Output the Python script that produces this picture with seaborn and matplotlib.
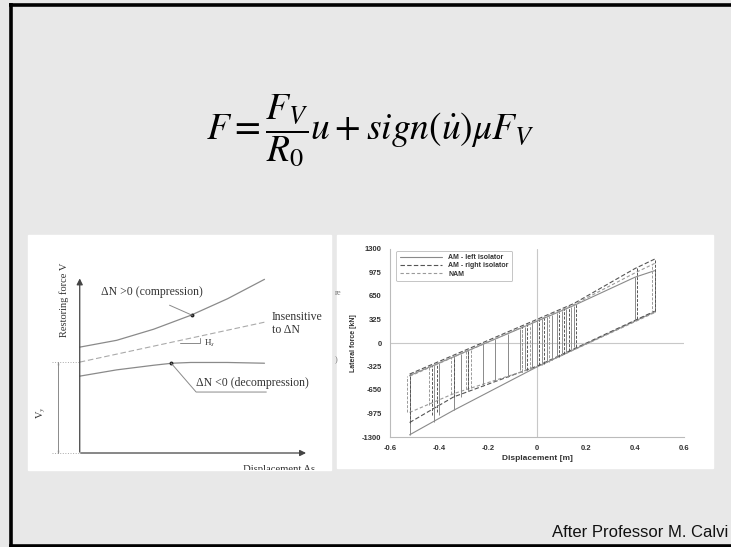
import numpy as np
import pandas as pd
import matplotlib
matplotlib.use('Agg')
import matplotlib.pyplot as plt
import seaborn as sns
from matplotlib.lines import Line2D
from matplotlib.patches import Rectangle

# ---- data: right chart (hysteresis loops) ----
series_names = ['AM - left isolator', 'AM - right isolator', 'NAM']

# branch polylines (displacement [m], force [kN])
left_up_u = [-0.52, 0.15, 0.40, 0.48]
left_up_f = [-450, 518, 910, 1000]
left_lo_u = [-0.52, -0.34, 0.0, 0.48]
left_lo_f = [-1270, -930, -330, 430]

right_up_u = [-0.52, 0.15, 0.40, 0.48]
right_up_f = [-430, 545, 1030, 1160]
right_lo_u = [-0.52, -0.34, 0.0, 0.48]
right_lo_f = [-1100, -745, -320, 440]

nam_up_u = [-0.52, 0.15, 0.40, 0.48]
nam_up_f = [-460, 530, 970, 1100]
nam_lo_u = [-0.52, -0.34, 0.0, 0.48]
nam_lo_f = [-960, -700, -330, 420]

# reversal (unloading) segments: position, top, bottom
left_rev_u = [-0.52, -0.42, -0.40, -0.34, -0.31, -0.28, -0.22, -0.17, -0.12, -0.07,
              -0.05, -0.02, 0.00, 0.02, 0.04, 0.06, 0.08, 0.10, 0.12, 0.14, 0.15, 0.40, 0.48]
left_rev_top = [-450, -309, -280, -193, -150, -106, -19, 54, 126, 199,
                228, 271, 300, 329, 358, 387, 416, 445, 474, 503, 518, 910, 1000]
left_rev_bot = [-1270, -1090, -1000, -930, -740, -670, -600, -530, -465, -380,
                -360, -330, -300, -280, -260, -240, -200, -160, -120, -80, -60, 320, 430]

right_rev_u = [-0.52, -0.43, -0.41, -0.34, -0.28, -0.06, -0.04, 0.01, 0.03, 0.09, 0.11, 0.13, 0.16, 0.41, 0.48]
right_rev_top = [-430, -320, -290, -190, -100, 215, 245, 315, 345, 435, 465, 495, 545, 1040, 1160]
right_rev_bot = [-1100, -1000, -960, -745, -640, -400, -370, -310, -290, -190, -150, -110, -50, 330, 440]

nam_rev_u = [-0.53, -0.44, -0.42, -0.35, -0.29, -0.27, -0.06, -0.03, 0.02, 0.05, 0.10, 0.14, 0.47]
nam_rev_top = [-460, -330, -300, -200, -115, -90, 210, 255, 325, 370, 445, 505, 1090]
nam_rev_bot = [-960, -860, -830, -700, -640, -620, -395, -360, -300, -260, -170, -90, 420]

y_ticks = [-1300, -975, -650, -325, 0, 325, 650, 975, 1300]
x_ticks = [-0.6, -0.4, -0.2, 0, 0.2, 0.4, 0.6]
x_ticklabels = ['-0.6', '-0.4', '-0.2', '0', '0.2', '0.4', '0.6']

# ---- data: left schematic (arbitrary units) ----
comp_x = [0, 2, 4, 6, 8, 10]
comp_v = [5.73, 6.1, 6.7, 7.45, 8.35, 9.4]
insens_x = [0, 10]
insens_v = [4.92, 7.08]
decomp_x = [0, 2, 4, 5, 6, 8, 10]
decomp_v = [4.16, 4.5, 4.75, 4.86, 4.9, 4.9, 4.86]
vy_level = 4.92

W, H = 731, 547


def fr(x0, y0, x1, y1):
    return [x0 / W, 1 - y1 / H, (x1 - x0) / W, (y1 - y0) / H]


sns.set_theme(style='white')
plt.rcParams['font.family'] = ['Liberation Sans', 'DejaVu Sans']
plt.rcParams['mathtext.fontset'] = 'stix'

fig = plt.figure(figsize=(7.31, 5.47), dpi=100)
fig.patch.set_facecolor('#e8e8e8')

# slide background, border and white picture panels
bg = fig.add_axes([0, 0, 1, 1])
bg.set_xlim(0, W)
bg.set_ylim(H, 0)
bg.axis('off')
bg.add_patch(Rectangle((0, 0), W, H, color='#e8e8e8', zorder=0))
bg.plot([10.5, 10.5], [3, H], color='black', lw=2.6, solid_capstyle='butt')
bg.plot([9, W], [4.6, 4.6], color='black', lw=2.6, solid_capstyle='butt')
bg.plot([9, W], [545.5, 545.5], color='black', lw=2.6, solid_capstyle='butt')
bg.add_patch(Rectangle((28, 235), 303, 235, color='white', zorder=1))
bg.add_patch(Rectangle((337, 235), 376, 233, color='white', zorder=1))
bg.text(335, 293, 're', fontsize=6, color='#777', family='Liberation Serif', va='center', zorder=2)
bg.text(335, 360, ')', fontsize=6, color='#777', family='Liberation Serif', va='center', zorder=2)

# formula
fig.text(370 / W, 1 - 130 / H, r'$F=\dfrac{F_V}{R_0}u+sign(\dot{u})\mu F_V$',
         fontsize=27, ha='center', va='center', color='black')

# footer
fig.text(728 / W, 1 - 537 / H, 'After Professor M. Calvi', fontsize=12,
         ha='right', va='baseline', color='#111')

# ---------------- left schematic ----------------
axl = fig.add_axes(fr(28, 235, 331, 470))
axl.set_xlim(-2.8, 13.6)
axl.set_ylim(-0.92, 11.8)
axl.axis('off')
serif = 'Liberation Serif'
lc = '#8a8a8a'
tc = '#333333'

schem = pd.concat([
    pd.DataFrame({'x': comp_x, 'v': comp_v, 'curve': 'comp'}),
    pd.DataFrame({'x': decomp_x, 'v': decomp_v, 'curve': 'decomp'}),
])
sns.lineplot(data=schem, x='x', y='v', units='curve', estimator=None, color=lc,
             lw=0.9, ax=axl, legend=False)
axl.plot(insens_x, insens_v, color='#aaaaaa', lw=0.8, ls=(0, (5, 2.5)))

# axes arrows
axl.annotate('', xy=(0, 9.6), xytext=(0, -0.1),
             arrowprops=dict(arrowstyle='-|>', color='#444', lw=0.9, mutation_scale=9))
axl.annotate('', xy=(12.4, 0), xytext=(-0.1, 0),
             arrowprops=dict(arrowstyle='-|>', color='#444', lw=0.9, mutation_scale=9))

# dots and leaders
axl.plot([6.1, 4.95], [7.45, 4.86], 'o', color='#222', ms=1.8)
axl.plot([6.1, 4.86], [7.45, 8.0], color=lc, lw=0.7)
axl.plot([4.95, 6.3, 10.1], [4.86, 3.3, 3.3], color=lc, lw=0.7)

# Hs slope marker
axl.plot([5.4, 6.5, 6.5], [5.95, 5.95, 6.2], color=lc, lw=0.7)
axl.text(6.75, 5.95, r'H$_s$', family=serif, fontsize=6.5, color=tc, va='center')

# Vy dimension
axl.plot([-1.5, 0], [vy_level, vy_level], color='#aaa', lw=0.7, ls=':')
axl.plot([-1.5, 0], [0, 0], color='#aaa', lw=0.7, ls=':')
axl.plot([-1.19, -1.19], [0, vy_level], color=lc, lw=0.7)
axl.plot([-1.19, -1.19], [0.1, vy_level - 0.1], '|', color=lc, ms=2)
axl.text(-2.05, 2.2, r'V$_y$', family=serif, fontsize=7.5, color=tc,
         rotation=90, ha='center', va='center')

axl.text(1.14, 8.7, 'ΔN >0 (compression)', family=serif, fontsize=8.5, color=tc, va='center')
axl.text(10.4, 7.0, 'Insensitive\nto ΔN', family=serif, fontsize=8.5, color=tc,
         va='center', linespacing=1.1)
axl.text(6.3, 3.78, 'ΔN <0 (decompression)', family=serif, fontsize=8.5, color=tc, va='center')
axl.text(-0.85, 8.3, 'Restoring force V', family=serif, fontsize=7.5, color=tc,
         rotation=90, ha='center', va='center')
axl.text(10.8, -0.92, 'Displacement As', family=serif, fontsize=7.7, color=tc,
         ha='center', va='center', clip_on=True)

# ---------------- right chart ----------------
axr = fig.add_axes(fr(390, 249, 684, 437))
axr.patch.set_alpha(0)

branches = []
for name, up_u, up_f, lo_u, lo_f in [
        (series_names[0], left_up_u, left_up_f, left_lo_u, left_lo_f),
        (series_names[1], right_up_u, right_up_f, right_lo_u, right_lo_f),
        (series_names[2], nam_up_u, nam_up_f, nam_lo_u, nam_lo_f)]:
    branches.append(pd.DataFrame({'u': up_u, 'F': up_f, 'series': name, 'branch': name + ' up'}))
    branches.append(pd.DataFrame({'u': lo_u, 'F': lo_f, 'series': name, 'branch': name + ' lo'}))
df_br = pd.concat(branches, ignore_index=True)

palette = {series_names[0]: '#8a8a8a', series_names[1]: '#555555', series_names[2]: '#9a9a9a'}
dashes = {series_names[0]: '', series_names[1]: (4, 2), series_names[2]: (3, 2)}

axr.axhline(0, color='#c8c8c8', lw=0.8, zorder=0)
axr.axvline(0, color='#c8c8c8', lw=0.8, zorder=0)

sns.lineplot(data=df_br, x='u', y='F', hue='series', style='series', units='branch',
             estimator=None, sort=False, palette=palette, dashes=dashes, lw=0.8,
             ax=axr, legend=False)

axr.vlines(left_rev_u, left_rev_bot, left_rev_top, colors=palette[series_names[0]], lw=0.7)
axr.vlines(right_rev_u, right_rev_bot, right_rev_top, colors=palette[series_names[1]],
           lw=0.7, linestyles=(0, (3, 1.5)))
axr.vlines(nam_rev_u, nam_rev_bot, nam_rev_top, colors=palette[series_names[2]],
           lw=0.7, linestyles=(0, (3, 1.5)))

axr.set_xlim(-0.6, 0.6)
axr.set_ylim(-1300, 1300)
axr.set_yticks(y_ticks)
axr.set_yticklabels([str(v) for v in y_ticks])
axr.set_xticks(x_ticks)
axr.set_xticklabels(x_ticklabels)
axr.set_yticks(np.arange(-1300, 1301, 162.5), minor=True)
axr.set_xticks(np.arange(-0.6, 0.61, 0.1), minor=True)
for s in ['top', 'right']:
    axr.spines[s].set_visible(False)
for s in ['left', 'bottom']:
    axr.spines[s].set_color('#bbbbbb')
    axr.spines[s].set_linewidth(0.8)
axr.tick_params(which='both', direction='in', color='#bbbbbb', width=0.6,
                labelsize=5.5, labelcolor='#333', pad=6)
axr.tick_params(which='major', length=3)
axr.tick_params(which='minor', length=2)
for lab in axr.get_xticklabels() + axr.get_yticklabels():
    lab.set_fontweight('bold')
axr.set_xlabel('Displacement [m]', fontsize=6, fontweight='bold', color='#333', labelpad=2)
axr.set_ylabel('Lateral force [kN]', fontsize=5, fontweight='bold', color='#333', labelpad=4)

handles = [Line2D([], [], color=palette[series_names[0]], lw=0.8),
           Line2D([], [], color=palette[series_names[1]], lw=0.8, ls=(0, (4, 2))),
           Line2D([], [], color=palette[series_names[2]], lw=0.8, ls=(0, (3, 2)))]
leg = axr.legend(handles, series_names, loc='upper left', bbox_to_anchor=(0.01, 1.01),
                 fontsize=5, frameon=True, fancybox=True, handlelength=6,
                 borderpad=0.5, labelspacing=0.2, handletextpad=1.0)
leg.get_frame().set_edgecolor('#aaaaaa')
leg.get_frame().set_linewidth(0.6)
for t in leg.get_texts():
    t.set_fontweight('bold')
    t.set_color('#333')

fig.savefig('out.png', dpi=100, facecolor=fig.get_facecolor())
